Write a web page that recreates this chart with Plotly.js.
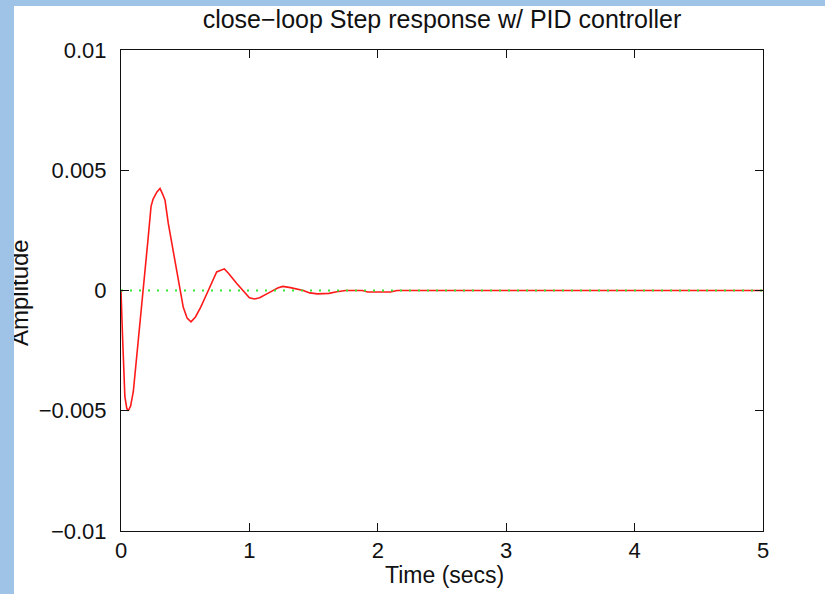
<!DOCTYPE html>
<html>
<head>
<meta charset="utf-8">
<script src="https://cdn.plot.ly/plotly-3.0.1.min.js"></script>
<style>
  html, body { margin: 0; padding: 0; background: #fff; }
  #wrap { position: relative; width: 825px; height: 594px; overflow: hidden; }
  #chart { position: absolute; left: 0; top: 0; width: 825px; height: 594px; }
  .strip { position: absolute; background: #9fc3e6; z-index: 10; pointer-events: none; }
</style>
</head>
<body>
<div id="wrap">
  <div id="chart"></div>
  <div class="strip" style="left:0;top:0;width:14px;height:594px;"></div>
  <div class="strip" style="left:0;top:0;width:825px;height:6px;"></div>
</div>
<script>
// Time samples (s)
const timeSecs = [0, 0.005, 0.012, 0.03, 0.045, 0.057, 0.075, 0.096, 0.13, 0.16, 0.187, 0.21, 0.234, 0.25, 0.28, 0.304, 0.325, 0.343, 0.368, 0.407, 0.446, 0.485, 0.515, 0.545, 0.58, 0.62, 0.68, 0.72, 0.745, 0.805, 0.84, 0.9, 0.95, 1.0, 1.04, 1.08, 1.15, 1.22, 1.26, 1.32, 1.42, 1.47, 1.53, 1.62, 1.68, 1.75, 1.88, 1.92, 2.1, 2.15, 3, 4, 5];
// Closed-loop step response amplitude
const amplitude = [0, -0.0012, -0.0019, -0.0044, -0.0049, -0.0050, -0.0048, -0.0042, -0.0024, -0.0008, 0.0007, 0.0021, 0.0035, 0.0038, 0.0041, 0.00424, 0.0040, 0.00375, 0.0028, 0.00167, 0.0004, -0.0007, -0.00115, -0.0013, -0.0011, -0.0007, 0.0, 0.0005, 0.00077, 0.0009, 0.0007, 0.0003, 0.0, -0.0003, -0.00035, -0.0003, -0.0001, 0.0001, 0.00017, 0.00012, 0.0, -0.0001, -0.00014, -0.00012, -0.00005, 0.0, 0.0, -0.00006, -0.00006, 0.0, 0, 0, 0];
// Steady-state reference line
const refTime = [0, 5];
const refLevel = [0, 0];
// Axis ticks
const xTicks = [0, 1, 2, 3, 4, 5];
const xTickLabels = ['0', '1', '2', '3', '4', '5'];
const yTicks = [-0.01, -0.005, 0, 0.005, 0.01];
const yTickLabels = ['\u22120.01', '\u22120.005', '0', '0.005', '0.01'];

const font = 'Liberation Sans, Arial, Helvetica, sans-serif';

const traces = [
  { x: timeSecs, y: amplitude, type: 'scatter', mode: 'lines',
    line: { color: '#ff1a1a', width: 1.6 }, hoverinfo: 'skip' },
  { x: refTime, y: refLevel, type: 'scatter', mode: 'lines',
    line: { color: '#33e833', width: 2, dash: '2px,7px' }, hoverinfo: 'skip' }
];

const axisCommon = {
  showline: true, linecolor: '#111', linewidth: 1, mirror: 'ticks',
  ticks: 'inside', ticklen: 8, tickcolor: '#111', tickwidth: 1,
  showgrid: false, zeroline: false, fixedrange: true,
  tickfont: { family: font, size: 22, color: '#111' }
};

const layout = {
  width: 825, height: 594,
  margin: { l: 121, r: 62, t: 50, b: 63 },
  paper_bgcolor: '#fff', plot_bgcolor: '#fff',
  showlegend: false,
  title: { text: 'close\u2212loop Step response w/ PID controller',
    font: { family: font, size: 25, color: '#111' },
    x: 0.5, xref: 'paper', y: 1 - 19 / 594, yref: 'container', yanchor: 'middle' },
  xaxis: Object.assign({}, axisCommon, {
    range: [0, 5], tickmode: 'array', tickvals: xTicks, ticktext: xTickLabels,
    ticklabelstandoff: 0
  }),
  yaxis: Object.assign({}, axisCommon, {
    range: [-0.01, 0.01], tickmode: 'array', tickvals: yTicks, ticktext: yTickLabels,
    ticklabelstandoff: 9
  }),
  annotations: [
    { text: 'Time (secs)', xref: 'paper', yref: 'paper',
      x: (444 - 121) / 642, y: -(575 - 531) / 481, xanchor: 'center', yanchor: 'middle',
      showarrow: false, font: { family: font, size: 23, color: '#111' } },
    { text: 'Amplitude', xref: 'paper', yref: 'paper', textangle: -90,
      x: (19 - 121) / 642, y: (531 - 293) / 481, xanchor: 'center', yanchor: 'middle',
      showarrow: false, font: { family: font, size: 24, color: '#111' } }
  ]
};

Plotly.newPlot('chart', traces, layout, { displayModeBar: false, staticPlot: true });
</script>
</body>
</html>
